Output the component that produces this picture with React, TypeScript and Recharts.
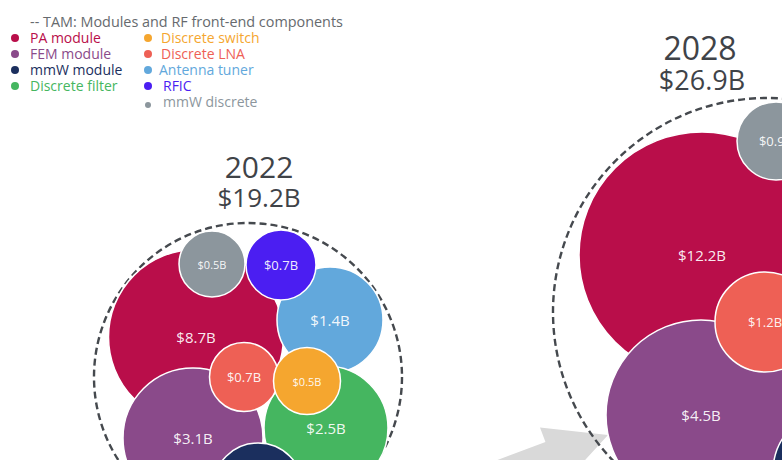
import { ScatterChart, Scatter, XAxis, YAxis, ZAxis } from "recharts";

const W = 782;
const H = 460;
const FONT = '"Open Sans", "DejaVu Sans", sans-serif';
const TEXT_DARK = "#3f4348";

// segments + legend colours
const segments = [
  "PA module",
  "FEM module",
  "mmW module",
  "Discrete filter",
  "Discrete switch",
  "Discrete LNA",
  "Antenna tuner",
  "RFIC",
  "mmW discrete",
];
const segmentColors = [
  "#b90e4a",
  "#8a4a8a",
  "#1b2f5e",
  "#45b660",
  "#f5a62f",
  "#ee6055",
  "#62a8dc",
  "#4b1ef2",
  "#8c969d",
];

// groups (TAM rings)
const years = ["2022", "2028"];
const totals = ["$19.2B", "$26.9B"];
const ringX = [248, 767];
const ringY = [377, 312];
const ringR = [154, 214];
const titleX = [259, 700];
const titleY = [168, 50];

// 2022 bubbles, listed in drawing order (value in $B, null = label not shown)
const names2022 = [
  "PA module",
  "Antenna tuner",
  "Discrete filter",
  "FEM module",
  "mmW discrete",
  "RFIC",
  "Discrete LNA",
  "Discrete switch",
  "mmW module",
];
const values2022 = [8.7, 1.4, 2.5, 3.1, 0.5, 0.7, 0.7, 0.5, null];
const bubbleX2022 = [196, 330, 326, 193, 212, 281, 244, 307, 258];
const bubbleY2022 = [337, 320, 428, 438, 264, 265, 377, 381, 488];
const bubbleR2022 = [87.5, 53, 62, 70, 33, 35, 34.5, 33.5, 45];

// 2028 bubbles (only the part that is in view)
const names2028 = [
  "PA module",
  "mmW discrete",
  "FEM module",
  "Discrete LNA",
  "mmW module",
];
const values2028 = [12.2, 0.9, 4.5, 1.2, null];
const bubbleX2028 = [702, 776, 701, 765, 836];
const bubbleY2028 = [255, 141, 415, 322, 472];
const bubbleR2028 = [123, 39, 95, 50, 63];

// growth arrow between the two years
const arrowTipX = [608];
const arrowTipY = [435];

const colorOf = (name: string) => segmentColors[segments.indexOf(name)];

function buildBubbles(
  names: string[],
  values: (number | null)[],
  xs: number[],
  ys: number[],
  rs: number[],
) {
  return names.map((name, i) => ({
    name,
    x: xs[i],
    y: ys[i],
    z: Math.PI * rs[i] * rs[i],
    value: values[i],
    color: colorOf(name),
  }));
}

const bubbles2022 = buildBubbles(names2022, values2022, bubbleX2022, bubbleY2022, bubbleR2022);
const bubbles2028 = buildBubbles(names2028, values2028, bubbleX2028, bubbleY2028, bubbleR2028);

const rings = years.map((year, i) => ({
  x: ringX[i],
  y: ringY[i],
  z: Math.PI * ringR[i] * ringR[i],
}));

const titles = years.map((year, i) => ({
  x: titleX[i],
  y: titleY[i],
  year,
  total: totals[i],
}));

const arrowData = arrowTipX.map((x, i) => ({ x, y: arrowTipY[i] }));

function radiusOf(props: any) {
  if (props.width) return props.width / 2;
  return Math.sqrt(Math.max(props.size || 0, 0) / Math.PI);
}

function labelSize(v: number) {
  if (v < 0.6) return 11;
  if (v < 1.3) return 13;
  return 15;
}

function Bubble(props: any) {
  const { cx, cy, payload } = props;
  const r = radiusOf(props);
  const v = payload.value;
  return (
    <g>
      <circle cx={cx} cy={cy} r={r} fill={payload.color} stroke="#ffffff" strokeWidth={1.5} />
      {v != null && (
        <text
          x={cx}
          y={cy}
          textAnchor="middle"
          dominantBaseline="central"
          fill="#ffffff"
          fillOpacity={0.93}
          fontSize={labelSize(v)}
          fontWeight={500}
          fontFamily={FONT}
        >
          {`$${v.toFixed(1)}B`}
        </text>
      )}
    </g>
  );
}

function Ring(props: any) {
  const { cx, cy } = props;
  return (
    <circle
      cx={cx}
      cy={cy}
      r={radiusOf(props)}
      fill="none"
      stroke="#45494e"
      strokeWidth={2.4}
      strokeDasharray="7 4"
    />
  );
}

function Title(props: any) {
  const { cx, cy, payload } = props;
  const big = payload.year === "2028";
  return (
    <text fontFamily={FONT} fill={TEXT_DARK} textAnchor="middle" x={cx} y={cy + 10}>
      <tspan x={cx} fontSize={big ? 32 : 30}>
        {payload.year}
      </tspan>
      <tspan x={cx + (big ? 2 : 0)} dy={big ? 30 : 29} fontSize={big ? 27 : 26}>
        {payload.total}
      </tspan>
    </text>
  );
}

function Arrow(props: any) {
  const { cx, cy } = props;
  const pts = "0,0 -61,-31 -61,-15.5 -260,-15.5 -260,15.5 -61,15.5 -61,31";
  return (
    <polygon points={pts} fill="#d9d9d9" transform={`translate(${cx},${cy}) rotate(-20.6)`} />
  );
}

const legendCol1 = segments.slice(0, 4);
const legendCol2 = segments.slice(4);

function LegendBlock() {
  const item = (name: string, row: number, col: number) => {
    const color = colorOf(name);
    const small = name === "mmW discrete";
    const top = 38 + row * 16;
    const dotX = col === 0 ? 15 : 148;
    const textX =
      col === 0
        ? 30
        : name === "Antenna tuner"
          ? 159
          : name === "Discrete switch" || name === "Discrete LNA"
            ? 161
            : 163;
    return (
      <div key={name}>
        <span
          style={{
            position: "absolute",
            left: dotX - (small ? 3 : 4),
            top: top - (small ? 3 : 4) + (small ? 2.5 : 0),
            width: small ? 6 : 8,
            height: small ? 6 : 8,
            borderRadius: "50%",
            background: color,
          }}
        />
        <div
          style={{
            position: "absolute",
            left: textX,
            top: top - 8,
            height: 16,
            lineHeight: "16px",
            fontSize: 14,
            color,
            whiteSpace: "nowrap",
          }}
        >
          {name}
        </div>
      </div>
    );
  };
  return (
    <div style={{ position: "absolute", left: 0, top: 0, fontFamily: FONT }}>
      <div
        style={{
          position: "absolute",
          left: 30,
          top: 14,
          height: 16,
          lineHeight: "16px",
          fontSize: 14.4,
          color: "#666a6e",
          whiteSpace: "nowrap",
        }}
      >
        -- TAM: Modules and RF front-end components
      </div>
      {legendCol1.map((n, i) => item(n, i, 0))}
      {legendCol2.map((n, i) => item(n, i, 1))}
    </div>
  );
}

export default function App() {
  return (
    <div
      style={{
        position: "absolute",
        left: 0,
        top: 0,
        width: W,
        height: H,
        overflow: "hidden",
        background: "#ffffff",
      }}
    >
      <ScatterChart width={W} height={H} margin={{ top: 0, right: 0, bottom: 0, left: 0 }}>
        <XAxis type="number" dataKey="x" domain={[0, W]} hide allowDataOverflow />
        <YAxis type="number" dataKey="y" domain={[0, H]} reversed hide allowDataOverflow />
        <ZAxis type="number" dataKey="z" domain={[0, 200000]} range={[0, 200000]} />
        <Scatter data={arrowData} shape={Arrow} isAnimationActive={false} />
        <Scatter data={rings} shape={Ring} isAnimationActive={false} />
        <Scatter data={bubbles2022} shape={Bubble} isAnimationActive={false} />
        <Scatter data={bubbles2028} shape={Bubble} isAnimationActive={false} />
        <Scatter data={titles} shape={Title} isAnimationActive={false} />
      </ScatterChart>
      <LegendBlock />
    </div>
  );
}
